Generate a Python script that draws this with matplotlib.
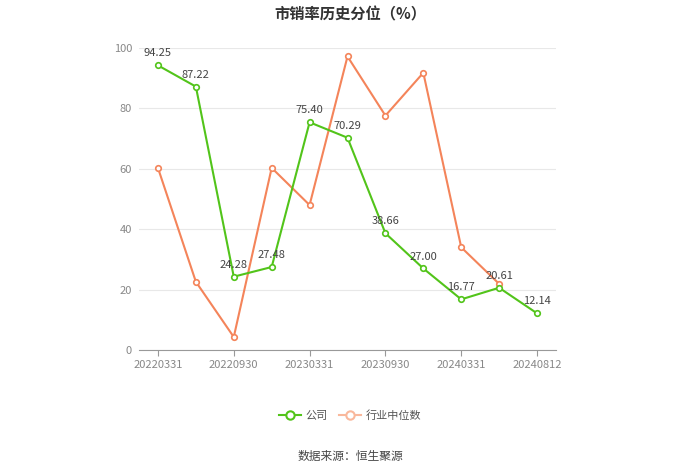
import matplotlib
matplotlib.use("Agg")
import matplotlib.pyplot as plt
from matplotlib.lines import Line2D

plt.rcParams['font.family'] = ['Noto Sans CJK SC', 'DejaVu Sans']

dates = ["20220331", "20220630", "20220930", "20221231", "20230331", "20230630",
         "20230930", "20231231", "20240331", "20240630", "20240812"]
company = [94.25, 87.22, 24.28, 27.48, 75.40, 70.29, 38.66, 27.00, 16.77, 20.61, 12.14]
industry = [60.3, 22.6, 4.3, 60.3, 48.0, 97.2, 77.6, 91.8, 34.0, 21.9]

green = "#52c41a"
orange = "#f4845a"

fig = plt.figure(figsize=(7, 4.73), dpi=100)
ax = fig.add_axes([139 / 700, 1 - 350 / 473, (556 - 139) / 700, (350 - 48) / 473])

x = list(range(len(dates)))
ax.plot(x[:len(industry)], industry, color=orange, lw=1.5, marker="o", ms=4,
        mfc="white", mec=orange, mew=1.2, zorder=3)
ax.plot(x, company, color=green, lw=1.5, marker="o", ms=4,
        mfc="white", mec=green, mew=1.2, zorder=4)

for xi, v in zip(x, company):
    ax.annotate(f"{v:.2f}", (xi, v), xytext=(0, 5), textcoords="offset points",
                ha="center", va="bottom", fontsize=8, color="#444444", zorder=5)

ax.set_xlim(-0.5, len(dates) - 0.5)
ax.set_ylim(0, 100)
ax.set_yticks([0, 20, 40, 60, 80, 100])
ax.set_xticks(x[::2])
ax.set_xticklabels(dates[::2])
ax.tick_params(axis="y", length=0, labelsize=8, colors="#888888", pad=5)
ax.tick_params(axis="x", length=4, labelsize=8, colors="#888888", pad=3)
ax.tick_params(axis="x", color="#999999")
ax.grid(axis="y", color="#e8e8e8", lw=0.8)
ax.set_axisbelow(True)
for s in ["left", "right", "top"]:
    ax.spines[s].set_visible(False)
ax.spines["bottom"].set_color("#999999")

fig.text(0.5, 1 - 14 / 473, "市销率历史分位（%）", ha="center", va="center",
         fontsize=11, fontweight="bold", color="#333333")

handles = [
    Line2D([0], [0], color=green, lw=1.5, marker="o", ms=6, mfc="white", mec=green, mew=1.5),
    Line2D([0], [0], color="#f9b89c", lw=1.5, marker="o", ms=6, mfc="white", mec="#f9b89c", mew=1.5),
]
fig.legend(handles, ["公司", "行业中位数"], loc="center", bbox_to_anchor=(0.5, 1 - 416 / 473),
           ncol=2, frameon=False, fontsize=8, handlelength=2.0, columnspacing=1.0,
           labelcolor="#555555", handletextpad=0.4)

fig.text(0.5, 1 - 456 / 473, "数据来源：恒生聚源", ha="center", va="center",
         fontsize=8.5, color="#444444")

fig.savefig("out.png", dpi=100)
